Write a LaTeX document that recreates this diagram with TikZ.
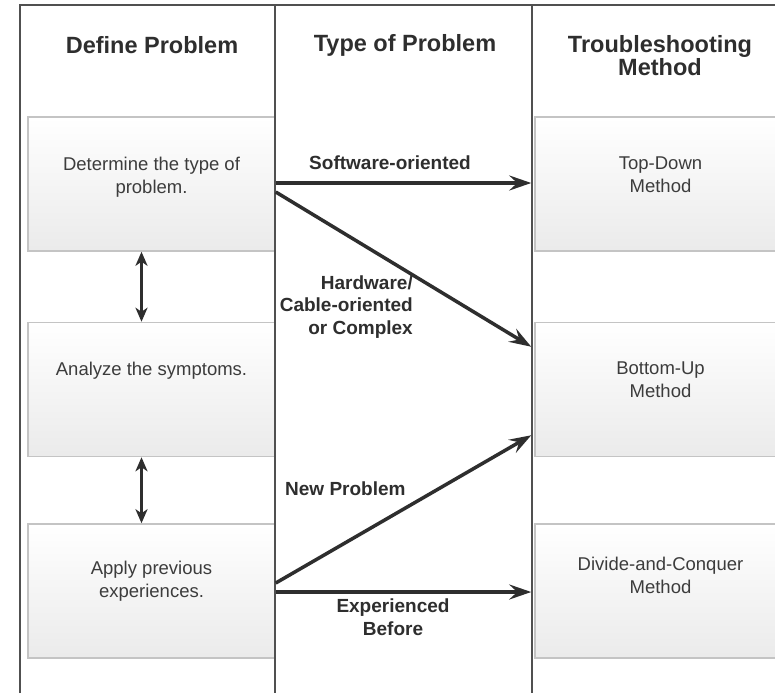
\documentclass[tikz,border=0pt]{standalone}
\usepackage{fontspec}
\setmainfont{Liberation Sans}
\usetikzlibrary{arrows.meta}
\definecolor{framegray}{HTML}{505050}
\definecolor{boxgray}{HTML}{C4C4C4}
\definecolor{inkgray}{HTML}{2E2E2E}
\definecolor{txtgray}{HTML}{3C3C3C}
\tikzset{
  head/.style={font={\fontsize{23.5}{23}\selectfont\bfseries}, text=inkgray, align=center},
  stepbox/.style={draw=boxgray, line width=1.5pt, top color=white, bottom color=gray!16,
    minimum height=134pt, inner sep=0pt},
  boxtext/.style={font={\fontsize{18.5}{23}\selectfont}, text=txtgray, align=center},
  lbl/.style={font={\fontsize{19}{22.5}\selectfont\bfseries}, text=inkgray, inner sep=0pt},
  flow/.style={draw=inkgray, line width=3.5pt, -{Stealth[length=22pt,width=15pt,inset=8pt]}},
  link/.style={draw=inkgray, line width=3.5pt, {Stealth[length=14pt,width=12pt,inset=4pt]}-{Stealth[length=14pt,width=12pt,inset=4pt]}}}

\begin{document}
\begin{tikzpicture}[x=1pt,y=-1pt]
\clip (0,0) rectangle (775,693);
\fill[white] (0,0) rectangle (775,693);
\draw[framegray, line width=2.5pt] (20,693) -- (20,5) -- (780,5);
\node[head] (hdefine) at (152,45) {Define Problem};
\node[head] (htype) at (405,45) {Type of Problem};
\node[head] (hmethod) at (660,56) {Troubleshooting\\Method};
\node[stepbox, minimum width=247pt, label={[boxtext, anchor=north, yshift=-37pt]north:Determine the type of\\problem.}] (lbox1) at (151.5,184) {};
\node[stepbox, minimum width=247pt, label={[boxtext, anchor=north, yshift=-37pt]north:Analyze the symptoms.}] (lbox2) at (151.5,389.5) {};
\node[stepbox, minimum width=247pt, label={[boxtext, anchor=north, yshift=-34pt]north:Apply previous\\experiences.}] (lbox3) at (151.5,591) {};
\node[stepbox, minimum width=255pt, label={[boxtext, anchor=north, yshift=-37pt, xshift=-2pt]north:Top-Down\\Method}] (rbox1) at (662.5,184) {};
\node[stepbox, minimum width=255pt, label={[boxtext, anchor=north, yshift=-36pt, xshift=-2pt]north:Bottom-Up\\Method}] (rbox2) at (662.5,389.5) {};
\node[stepbox, minimum width=255pt, label={[boxtext, anchor=north, yshift=-30pt, xshift=-2pt]north:Divide-and-Conquer\\Method}] (rbox3) at (662.5,591) {};
\draw[framegray, line width=2.5pt] (275,5) -- (275,693);
\draw[framegray, line width=2.5pt] (532,5) -- (532,693);
\draw[link] ([xshift=-10pt]lbox1.south) -- ([xshift=-10pt]lbox2.north);
\draw[link] ([xshift=-10pt]lbox2.south) -- ([xshift=-10pt]lbox3.north);
\draw[flow] ([yshift=1pt]lbox1.east) -- ([xshift=-3pt,yshift=1pt]rbox1.west);
\draw[flow] ([yshift=-8pt]lbox1.east) -- ([xshift=-3pt,yshift=-25pt]rbox2.north west);
\draw[flow] ([yshift=8pt]lbox3.east) -- ([xshift=-3pt,yshift=22pt]rbox2.south west);
\draw[flow] ([yshift=-1pt]lbox3.east) -- ([xshift=-3pt,yshift=-1pt]rbox3.west);
\node[lbl] (lsoft) at (390,163) {Software-oriented};
\node[lbl, align=right, anchor=east] (lhard) at (413,307) {Hardware/\\Cable-oriented\\or Complex};
\node[lbl, anchor=west] (lnew) at (285,489) {New Problem};
\node[lbl, align=center] (lexp) at (393,617) {Experienced\\Before};
\end{tikzpicture}
\end{document}
